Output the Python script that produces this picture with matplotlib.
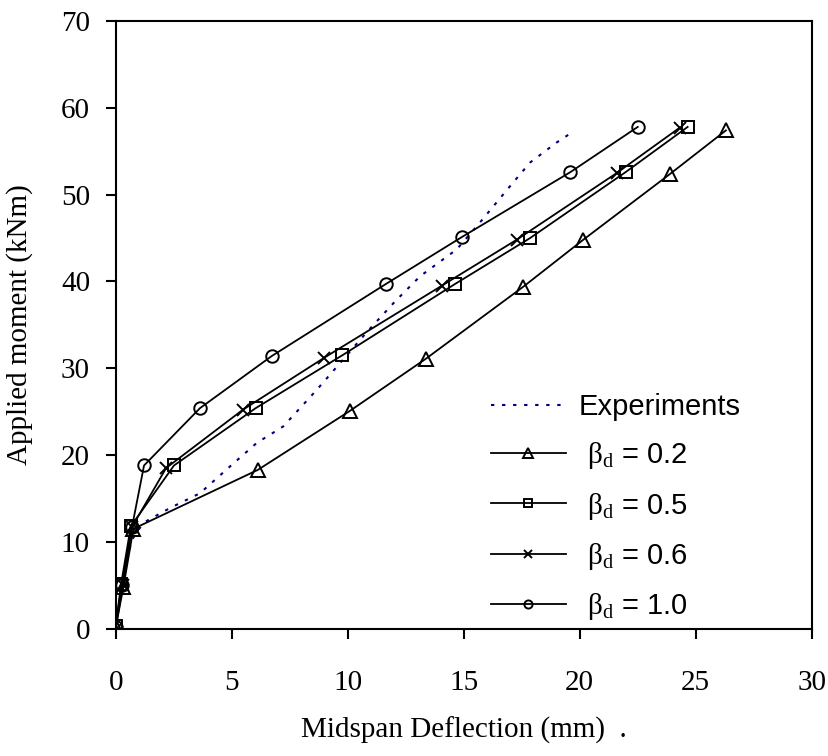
import numpy as np
import matplotlib.pyplot as plt

plt.rcParams['mathtext.fontset'] = 'custom'
plt.rcParams['mathtext.rm'] = 'Liberation Serif'
plt.rcParams['mathtext.it'] = 'Liberation Serif:italic'

# experiments (dotted navy)
exp_x = [0, 0.33, 0.69, 1.19, 2.34, 3.63, 4.93, 6.08, 7.22, 8.66, 9.67, 10.8,
         12.04, 13.12, 14.7, 15.7, 17.13, 17.86, 19.0, 19.57]
exp_y = [0.4, 6.0, 10.2, 12.2, 13.9, 15.6, 18.7, 21.4, 23.3, 27.5, 30.6, 34.1,
         37.7, 40.6, 43.7, 46.8, 51.4, 53.7, 56.0, 57.0]

# beta_d = 0.2
b02_x = [0, 0.33, 0.76, 6.13, 10.1, 13.37, 17.57, 20.15, 23.9, 26.3]
b02_y = [0.2, 4.8, 11.5, 18.3, 25.1, 31.1, 39.4, 44.8, 52.4, 57.4]
# beta_d = 0.5
b05_x = [0, 0.23, 0.65, 2.51, 6.03, 9.77, 14.62, 17.86, 21.98, 24.65]
b05_y = [0.3, 5.1, 11.8, 18.8, 25.4, 31.5, 39.7, 45.0, 52.6, 57.8]
# beta_d = 0.6
b06_x = [0, 0.3, 0.7, 2.17, 5.47, 8.98, 14.05, 17.28, 21.6, 24.3]
b06_y = [0, 5.0, 11.7, 18.5, 25.2, 31.2, 39.5, 44.8, 52.5, 57.7]
# beta_d = 1.0
b10_x = [0, 0.25, 0.7, 1.22, 3.63, 6.72, 11.64, 14.91, 19.6, 22.5]
b10_y = [0.2, 5.0, 11.7, 18.8, 25.4, 31.4, 39.7, 45.1, 52.6, 57.8]

labels = ['Experiments', r' $\mathrm{β}_{\mathrm{d}}$ = 0.2', r' $\mathrm{β}_{\mathrm{d}}$ = 0.5',
          r' $\mathrm{β}_{\mathrm{d}}$ = 0.6', r' $\mathrm{β}_{\mathrm{d}}$ = 1.0']

fig = plt.figure(figsize=(8.29, 7.56), dpi=100)
ax = fig.add_axes([0.1396, 0.1684, 0.8396, 0.8038])

ax.plot(exp_x, exp_y, color='#000080', lw=1.5, linestyle=(0, (1.6, 3.7)), label=labels[0])
kw = dict(color='black', lw=1.3, mfc='none', mec='black', mew=1.4)
ax.plot(b02_x, b02_y, marker='^', ms=10, label=labels[1], **kw)
ax.plot(b05_x, b05_y, marker='s', ms=9, label=labels[2], **kw)
ax.plot(b06_x, b06_y, marker='x', ms=9, label=labels[3], **kw)
ax.plot(b10_x, b10_y, marker='o', ms=9, label=labels[4], **kw)

ax.set_xlim(0, 30)
ax.set_ylim(0, 70)
ax.set_xticks(np.arange(0, 31, 5))
ax.set_yticks(np.arange(0, 71, 10))

for s in ax.spines.values():
    s.set_linewidth(1.5)
ax.tick_params(direction='out', length=7.5, width=1.5, labelsize=21)
ax.tick_params(axis='x', pad=22)
ax.tick_params(axis='y', pad=11)
for t in ax.get_xticklabels() + ax.get_yticklabels():
    t.set_family('Liberation Serif')

ax.set_xlabel('Midspan Deflection (mm)  .', family='Liberation Serif', fontsize=21, va='center')
ax.xaxis.set_label_coords(0.5, -0.1667)
ax.set_ylabel('Applied moment (kNm)', family='Liberation Serif', fontsize=21, va='center')
ax.yaxis.set_label_coords(-0.1375, 0.5)

leg = ax.legend(loc='upper left', bbox_to_anchor=(491 / 829, 1 - 393 / 756),
                bbox_transform=fig.transFigure, frameon=False,
                prop={'family': 'Liberation Sans', 'size': 21},
                handlelength=2.57, handletextpad=0.45, labelspacing=0.66,
                borderpad=0, borderaxespad=0, markerscale=0.65)

fig.savefig('out.png', dpi=100)
